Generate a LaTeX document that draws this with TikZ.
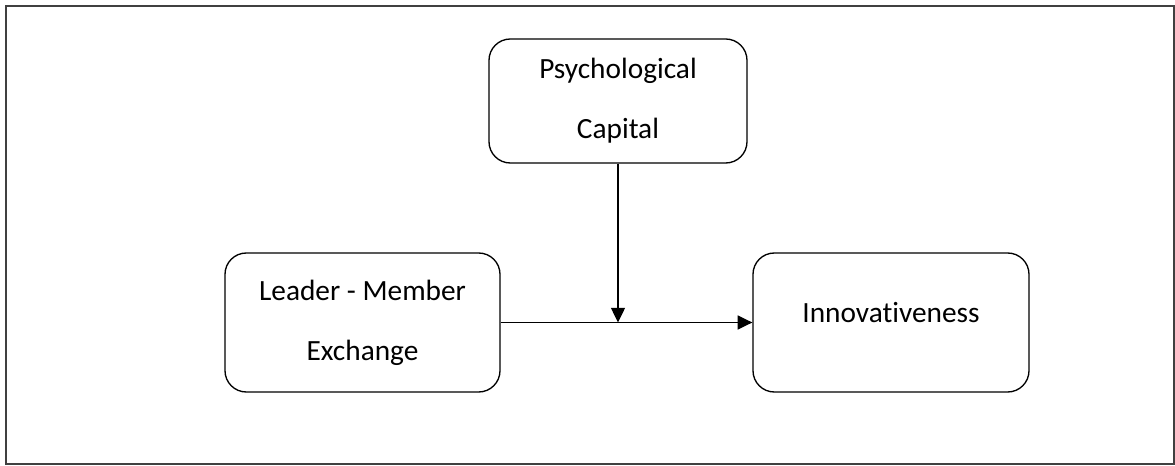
\documentclass[tikz,border=0pt]{standalone}
\usepackage{fontspec}
\setmainfont[Ligatures={NoCommon}]{Carlito}
\usetikzlibrary{arrows.meta}
\tikzset{every path/.style={black,line width=1pt}, varbox/.style={draw, rounded corners=16pt, align=center, font=\fontsize{22}{45}\selectfont, inner sep=0pt}, link/.style={-{Triangle[length=11pt,width=10.5pt]}}}

\begin{document}
\begin{tikzpicture}[x=0.75pt,y=-0.75pt]
  \useasboundingbox (0,0) rectangle (1175,466);
  \draw[draw=black!75,line width=1.5pt] (6,6) rectangle (1174,464);
  \node[varbox, minimum width=193.5pt, minimum height=93pt] (psy) at (618,101) {Psychological\\Capital};
  \node[varbox, minimum width=206.25pt, minimum height=104.25pt] (lmx) at (362.5,322.5) {Leader - Member\\Exchange};
  \node[varbox, minimum width=207pt, minimum height=104.25pt] (inno) at (891,322.5) {};
  \node[font=\fontsize{22}{26}\selectfont] (innotext) at (891,313) {Innovativeness};
  \coordinate (mod) at (psy.south |- lmx.east);
  \draw[link] (lmx.east) -- (inno.west);
  \draw[link] (psy.south) -- (mod);
\end{tikzpicture}
\end{document}
